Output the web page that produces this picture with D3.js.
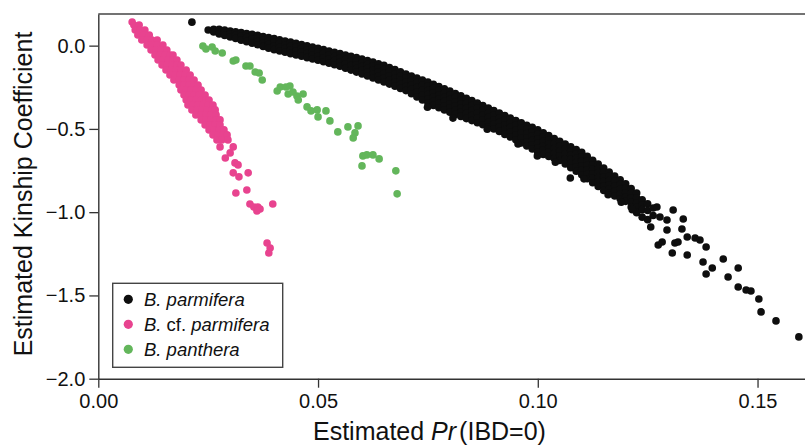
<!DOCTYPE html>
<html>
<head>
<meta charset="utf-8">
<script src="https://cdn.jsdelivr.net/npm/d3@7"></script>
<style>
  html, body { margin: 0; padding: 0; background: #fff; }
  svg { display: block; font-family: "Liberation Sans", Arial, Helvetica, sans-serif; }
</style>
</head>
<body>
<svg id="chart" width="805" height="445"></svg>
<script>
// ---------------- data ----------------
const xTicks = [0, 0.05, 0.10, 0.15];
const yTicks = [0.0, -0.5, -1.0, -1.5, -2.0];
const seriesNames = ["B. parmifera", "B. cf. parmifera", "B. panthera"];
const seriesColors = ["#0e0e0e", "#e8438f", "#63b65b"];

// B. parmifera: dense band, read column by column [x, [y values]]
const parmiferaBand = [
  [0.02500, [0.094]],
  [0.02625, [0.098, 0.082]],
  [0.02750, [0.098, 0.070]],
  [0.02875, [0.093, 0.077, 0.061]],
  [0.03000, [0.088, 0.070, 0.052]],
  [0.03125, [0.083, 0.063, 0.043]],
  [0.03250, [0.078, 0.056, 0.033]],
  [0.03375, [0.073, 0.048, 0.024]],
  [0.03500, [0.068, 0.041, 0.014]],
  [0.03625, [0.062, 0.043, 0.024, 0.005]],
  [0.03750, [0.055, 0.035, 0.015, -0.005]],
  [0.03875, [0.049, 0.028, 0.007, -0.015]],
  [0.04000, [0.042, 0.020, -0.002, -0.024]],
  [0.04125, [0.035, 0.013, -0.010, -0.032]],
  [0.04250, [0.028, 0.005, -0.017, -0.040]],
  [0.04375, [0.021, -0.002, -0.025, -0.048]],
  [0.04500, [0.014, -0.009, -0.033, -0.056]],
  [0.04625, [0.007, -0.017, -0.040, -0.064]],
  [0.04750, [-0.001, -0.025, -0.048, -0.072]],
  [0.04875, [-0.009, -0.033, -0.056, -0.080]],
  [0.05000, [-0.016, -0.040, -0.064, -0.088]],
  [0.05125, [-0.024, -0.048, -0.073, -0.097]],
  [0.05250, [-0.032, -0.057, -0.081, -0.106]],
  [0.05375, [-0.040, -0.065, -0.090, -0.115]],
  [0.05500, [-0.048, -0.073, -0.099, -0.124]],
  [0.05625, [-0.056, -0.083, -0.109, -0.136]],
  [0.05750, [-0.064, -0.092, -0.119, -0.147]],
  [0.05875, [-0.072, -0.094, -0.115, -0.137, -0.159]],
  [0.06000, [-0.080, -0.103, -0.125, -0.148, -0.170]],
  [0.06125, [-0.090, -0.113, -0.136, -0.159, -0.182]],
  [0.06250, [-0.099, -0.123, -0.147, -0.170, -0.194]],
  [0.06375, [-0.109, -0.133, -0.157, -0.182, -0.206]],
  [0.06500, [-0.118, -0.143, -0.168, -0.193, -0.218]],
  [0.06625, [-0.131, -0.156, -0.181, -0.206, -0.231]],
  [0.06750, [-0.144, -0.169, -0.194, -0.219, -0.244]],
  [0.06875, [-0.157, -0.182, -0.207, -0.232, -0.257]],
  [0.07000, [-0.170, -0.195, -0.220, -0.245, -0.270]],
  [0.07125, [-0.182, -0.209, -0.236, -0.262, -0.289]],
  [0.07250, [-0.194, -0.222, -0.251, -0.279, -0.308]],
  [0.07375, [-0.206, -0.236, -0.266, -0.296, -0.326]],
  [0.07500, [-0.218, -0.243, -0.269, -0.294, -0.320, -0.345]],
  [0.07625, [-0.232, -0.257, -0.283, -0.308, -0.334, -0.359]],
  [0.07750, [-0.245, -0.270, -0.296, -0.321, -0.347, -0.373]],
  [0.07875, [-0.259, -0.284, -0.310, -0.335, -0.361, -0.386]],
  [0.08000, [-0.272, -0.298, -0.323, -0.349, -0.374, -0.400]],
  [0.08125, [-0.287, -0.312, -0.337, -0.362, -0.387, -0.413]],
  [0.08250, [-0.301, -0.326, -0.350, -0.375, -0.400, -0.425]],
  [0.08375, [-0.316, -0.346, -0.377, -0.407, -0.438]],
  [0.08500, [-0.330, -0.360, -0.390, -0.420, -0.450]],
  [0.08625, [-0.345, -0.374, -0.404, -0.433, -0.463]],
  [0.08750, [-0.360, -0.389, -0.418, -0.446, -0.475]],
  [0.08875, [-0.375, -0.403, -0.431, -0.460, -0.488]],
  [0.09000, [-0.390, -0.418, -0.445, -0.473, -0.500]],
  [0.09125, [-0.405, -0.433, -0.461, -0.488, -0.516]],
  [0.09250, [-0.420, -0.448, -0.476, -0.504, -0.533]],
  [0.09375, [-0.435, -0.464, -0.492, -0.521, -0.549]],
  [0.09500, [-0.450, -0.479, -0.508, -0.536, -0.565]],
  [0.09625, [-0.464, -0.494, -0.524, -0.554, -0.584]],
  [0.09750, [-0.478, -0.503, -0.528, -0.553, -0.578, -0.603]],
  [0.09875, [-0.491, -0.517, -0.543, -0.569, -0.595, -0.621]],
  [0.10000, [-0.505, -0.532, -0.559, -0.586, -0.613, -0.640]],
  [0.10125, [-0.523, -0.549, -0.575, -0.601, -0.627, -0.653]],
  [0.10250, [-0.540, -0.565, -0.590, -0.615, -0.640, -0.665]],
  [0.10375, [-0.558, -0.588, -0.618, -0.648, -0.678]],
  [0.10500, [-0.575, -0.604, -0.633, -0.661, -0.690]],
  [0.10625, [-0.591, -0.621, -0.651, -0.681, -0.711]],
  [0.10750, [-0.608, -0.633, -0.658, -0.683, -0.708, -0.733]],
  [0.10875, [-0.624, -0.650, -0.676, -0.702, -0.728, -0.754]],
  [0.11000, [-0.640, -0.667, -0.694, -0.721, -0.748, -0.775]],
  [0.11125, [-0.664, -0.691, -0.718, -0.745, -0.772, -0.799]],
  [0.11250, [-0.688, -0.715, -0.742, -0.769, -0.796, -0.823]],
  [0.11375, [-0.711, -0.738, -0.765, -0.792, -0.819, -0.846]],
  [0.11500, [-0.735, -0.762, -0.789, -0.816, -0.843, -0.870]],
  [0.11625, [-0.759, -0.784, -0.810, -0.835, -0.861, -0.886]],
  [0.11750, [-0.783, -0.813, -0.843, -0.873, -0.903]],
  [0.11875, [-0.806, -0.834, -0.863, -0.891, -0.919]],
  [0.12000, [-0.830, -0.856, -0.883, -0.909, -0.935]],
  [0.12125, [-0.858, -0.886, -0.914, -0.941, -0.969]],
  [0.12250, [-0.885, -0.914, -0.944, -0.973, -1.003]],
  [0.12375, [-0.925, -0.955, -0.985, -1.030]],
  [0.12500, [-0.950, -0.990, -1.045]],
  [0.12625, [-0.975, -1.020]]
];
// B. parmifera: isolated / edge points [x, y]
const parmiferaScatter = [
  [0.0213, 0.141], [0.1074, -0.795],
  [0.0749, -0.370], [0.0807, -0.435], [0.0885, -0.502], [0.0955, -0.590],
  [0.0999, -0.662], [0.1040, -0.700], [0.1105, -0.800], [0.1160, -0.895],
  [0.1190, -0.940], [0.1215, -0.985],
  [0.1271, -0.969], [0.1278, -1.029], [0.1294, -1.047], [0.1257, -1.089],
  [0.1294, -1.107], [0.1308, -0.987], [0.1331, -1.041], [0.1328, -1.101],
  [0.1274, -1.197], [0.1283, -1.179], [0.1306, -1.245], [0.1312, -1.185],
  [0.1319, -1.179], [0.1340, -1.149], [0.1340, -1.257], [0.1358, -1.155],
  [0.1369, -1.167], [0.1383, -1.209], [0.1376, -1.299], [0.1422, -1.281],
  [0.1397, -1.335], [0.1383, -1.371], [0.1456, -1.335], [0.1433, -1.389],
  [0.1456, -1.449], [0.1474, -1.467], [0.1485, -1.473], [0.1503, -1.521],
  [0.1508, -1.599], [0.1542, -1.653], [0.1594, -1.749]
];

// B. cf. parmifera: dense cloud read row by row [y, [x values]]
const cfParmiferaRows = [
  [0.142, [0.0077]],
  [0.124, [0.0081, 0.0093]],
  [0.094, [0.0084, 0.0095, 0.0106]],
  [0.064, [0.0090, 0.0102, 0.0116]],
  [0.034, [0.0099, 0.0111, 0.0122, 0.0134]],
  [0.004, [0.0111, 0.0122, 0.0134, 0.0147]],
  [-0.026, [0.0120, 0.0131, 0.0143, 0.0156]],
  [-0.056, [0.0129, 0.0140, 0.0152, 0.0163, 0.0170]],
  [-0.086, [0.0136, 0.0147, 0.0159, 0.0170, 0.0179]],
  [-0.116, [0.0145, 0.0156, 0.0168, 0.0179, 0.0188]],
  [-0.146, [0.0154, 0.0166, 0.0177, 0.0188, 0.0200]],
  [-0.176, [0.0163, 0.0175, 0.0186, 0.0197, 0.0209]],
  [-0.206, [0.0172, 0.0184, 0.0195, 0.0206, 0.0218]],
  [-0.236, [0.0184, 0.0195, 0.0206, 0.0218, 0.0227]],
  [-0.266, [0.0188, 0.0200, 0.0211, 0.0222, 0.0234]],
  [-0.296, [0.0195, 0.0206, 0.0218, 0.0229, 0.0243]],
  [-0.326, [0.0200, 0.0211, 0.0222, 0.0234, 0.0245, 0.0252]],
  [-0.356, [0.0204, 0.0216, 0.0227, 0.0238, 0.0250, 0.0261]],
  [-0.386, [0.0213, 0.0225, 0.0236, 0.0247, 0.0259, 0.0266]],
  [-0.416, [0.0222, 0.0234, 0.0245, 0.0256, 0.0268]],
  [-0.446, [0.0234, 0.0245, 0.0256, 0.0268, 0.0277]],
  [-0.476, [0.0243, 0.0254, 0.0266, 0.0277]],
  [-0.506, [0.0252, 0.0263, 0.0275, 0.0286]],
  [-0.536, [0.0261, 0.0272, 0.0284, 0.0293]],
  [-0.566, [0.0270, 0.0281, 0.0295]]
];
const cfParmiferaScatter = [
  [0.0307, -0.608], [0.0277, -0.608], [0.0289, -0.675], [0.0300, -0.644],
  [0.0311, -0.704], [0.0318, -0.716], [0.0307, -0.764], [0.0320, -0.788],
  [0.0341, -0.764], [0.0313, -0.885], [0.0338, -0.867], [0.0345, -0.951],
  [0.0354, -0.969], [0.0363, -0.969], [0.0368, -0.981], [0.0361, -0.993],
  [0.0397, -0.951], [0.0384, -1.185], [0.0391, -1.215], [0.0388, -1.245]
];

// B. panthera [x, y]
const panthera = [
  [0.0238, -0.002], [0.0245, -0.020], [0.0259, -0.008], [0.0266, -0.032],
  [0.0282, -0.044], [0.0307, -0.092], [0.0313, -0.086], [0.0336, -0.122],
  [0.0345, -0.122], [0.0357, -0.158], [0.0366, -0.164], [0.0373, -0.206],
  [0.0407, -0.272], [0.0414, -0.248], [0.0427, -0.248], [0.0436, -0.242],
  [0.0432, -0.290], [0.0443, -0.278], [0.0452, -0.302], [0.0466, -0.290],
  [0.0455, -0.326], [0.0475, -0.368], [0.0484, -0.392], [0.0498, -0.386],
  [0.0500, -0.428], [0.0518, -0.392], [0.0527, -0.452], [0.0545, -0.518],
  [0.0568, -0.488], [0.0591, -0.482], [0.0584, -0.524], [0.0580, -0.554],
  [0.0602, -0.662], [0.0611, -0.656], [0.0625, -0.656], [0.0639, -0.680],
  [0.0600, -0.722], [0.0677, -0.752], [0.0680, -0.890]
];

// ---------------- chart ----------------
const svg = d3.select("#chart");
const plotLeft = 98.3, plotRight = 805, plotTop = 14, plotBottom = 378.7;
const x = d3.scaleLinear().domain([0, 0.1608]).range([plotLeft, plotRight]);
const y = d3.scaleLinear().domain([-2.0, 0.19]).range([plotBottom, plotTop]);
const axisColor = "#333";

const parmiferaPts = parmiferaBand.flatMap(([xv, ys]) => ys.map(yv => [xv, yv])).concat(parmiferaScatter);
const cfPts = cfParmiferaRows.flatMap(([yv, xs]) => xs.map(xv => [xv, yv])).concat(cfParmiferaScatter);
const groups = [parmiferaPts, cfPts, panthera];

const dotR = 3.8;
groups.forEach((pts, i) => {
  svg.append("g")
    .selectAll("circle")
    .data(pts)
    .join("circle")
    .attr("cx", d => x(d[0]))
    .attr("cy", d => y(d[1]))
    .attr("r", dotR)
    .attr("fill", seriesColors[i]);
});

// frame top line
svg.append("line")
  .attr("x1", plotLeft).attr("x2", plotRight).attr("y1", plotTop).attr("y2", plotTop)
  .attr("stroke", "#444").attr("stroke-width", 1.4);

// axes
const xAxis = d3.axisBottom(x).tickValues(xTicks).tickFormat(d3.format(".2f")).tickSize(9).tickPadding(6).tickSizeOuter(0);
const yAxis = d3.axisLeft(y).tickValues(yTicks).tickFormat(d3.format(".1f")).tickSize(9).tickPadding(4).tickSizeOuter(0);

const gx = svg.append("g").attr("transform", `translate(0,${plotBottom})`).call(xAxis);
const gy = svg.append("g").attr("transform", `translate(${plotLeft},0)`).call(yAxis);
[gx, gy].forEach(g => {
  g.select(".domain").attr("stroke", axisColor).attr("stroke-width", 1.4);
  g.selectAll(".tick line").attr("stroke", axisColor).attr("stroke-width", 1.3);
  g.selectAll(".tick text").attr("fill", "#111").style("font-size", "20px")
    .style("font-family", '"Liberation Sans", Arial, Helvetica, sans-serif');
});

// axis titles
const xt = svg.append("text")
  .attr("x", 313).attr("y", 440)
  .attr("fill", "#111").style("font-size", "25px");
xt.append("tspan").text("Estimated ");
xt.append("tspan").attr("font-style", "italic").text("Pr");
xt.append("tspan").attr("dx", 3).text("(IBD=0)");

svg.append("text")
  .attr("transform", "translate(32,194) rotate(-90)")
  .attr("text-anchor", "middle")
  .attr("fill", "#111").style("font-size", "25px")
  .text("Estimated Kinship Coefficient");

// legend
const lg = svg.append("g");
lg.append("rect")
  .attr("x", 112.7).attr("y", 283.3).attr("width", 170).attr("height", 84)
  .attr("fill", "#fff").attr("stroke", "#444").attr("stroke-width", 1.4);
const legendRows = [
  [{t: "B.", i: true}, {t: " parmifera", i: true}],
  [{t: "B.", i: true}, {t: " cf. ", i: false}, {t: "parmifera", i: true}],
  [{t: "B.", i: true}, {t: " panthera", i: true}]
];
legendRows.forEach((parts, i) => {
  const cy = 299.3 + i * 25;
  lg.append("circle").attr("cx", 128.3).attr("cy", cy).attr("r", 4.6).attr("fill", seriesColors[i]);
  const t = lg.append("text").attr("x", 144).attr("y", cy + 6.5)
    .attr("fill", "#111").style("font-size", "18.5px");
  parts.forEach(p => t.append("tspan").attr("font-style", p.i ? "italic" : "normal").text(p.t));
});
</script>
</body>
</html>
